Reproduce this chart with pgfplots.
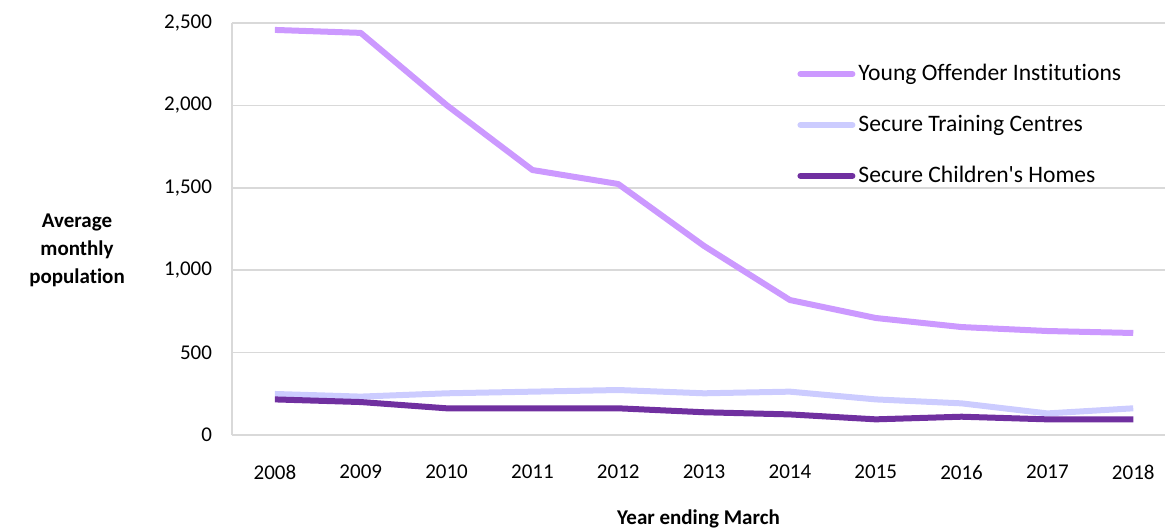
\documentclass[border=0pt]{standalone}
\usepackage{pgfplots}
\pgfplotsset{compat=1.18}
\usepackage{fontspec}
\setmainfont{Carlito}[Ligatures={NoCommon,NoDiscretionary,NoRare}]
\definecolor{yoi}{HTML}{CC99FF}
\definecolor{stc}{HTML}{CCCCFF}
\definecolor{sch}{HTML}{7030A0}
\definecolor{gridc}{HTML}{D9D9D9}
\begin{document}
\begin{tikzpicture}
\begin{axis}[
    name=ax,
    scale only axis,
    width=466.5pt, height=206pt,
    xmin=-0.5, xmax=10.37,
    ymin=0, ymax=2500,
    xtick={0,...,10},
    xticklabels={2008,2009,2010,2011,2012,2013,2014,2015,2016,2017,2018},
    ytick={0,500,...,2500},
    ymajorgrids,
    grid style={gridc, line width=0.8pt},
    axis line style={gridc, line width=0.8pt},
    axis x line*=bottom,
    axis y line*=left,
    major tick length=0pt,
    tick label style={font=\fontsize{10.5}{12}\selectfont, text=black},
    /pgf/number format/assume math mode=true,
    /pgf/number format/1000 sep={,},
    yticklabel style={xshift=-6.5pt},
    xticklabel style={yshift=-11.5pt},
    xlabel={Year ending March},
    every axis x label/.style={at={(rel axis cs:0.5,0)}, anchor=center, yshift=-42pt,
        font=\fontsize{10.5}{12}\selectfont\bfseries},
    ylabel={Average\\monthly\\population},
    every axis y label/.style={at={(rel axis cs:0,0.447)}, anchor=center, xshift=-77.5pt,
        align=center, font=\fontsize{10.5}{14}\selectfont\bfseries},
    legend style={at={(rel axis cs:0.6056,0.908)}, anchor=north west, draw=none, fill=none,
        font=\fontsize{11.8}{13}\selectfont, row sep=12.8pt, inner sep=0pt,
        nodes={inner sep=1.5pt}},
    legend cell align=left,
    legend image code/.code={\draw[#1, line width=3pt, line cap=round] (0pt,0pt) -- (26pt,0pt);},
    every axis plot/.append style={line width=3pt, line join=round},
]
\addplot[yoi] coordinates {
    (0,2458) (1,2440) (2,2002) (3,1608) (4,1523) (5,1147)
    (6,819) (7,710) (8,655) (9,631) (10,619)
};
\addlegendentry{Young Offender Institutions}
\addplot[stc] coordinates {
    (0,249) (1,233) (2,253) (3,263) (4,273) (5,253)
    (6,263) (7,216) (8,192) (9,131) (10,162)
};
\addlegendentry{Secure Training Centres}
\addplot[sch] coordinates {
    (0,216) (1,200) (2,162) (3,162) (4,162) (5,138)
    (6,125) (7,95) (8,111) (9,95) (10,95)
};
\addlegendentry{Secure Children\textquotesingle s Homes}
\end{axis}
\pgfresetboundingbox
\path ([shift={(-116pt,-48pt)}]ax.south west) rectangle ([shift={(0pt,11.5pt)}]ax.north east);
\end{tikzpicture}
\end{document}
